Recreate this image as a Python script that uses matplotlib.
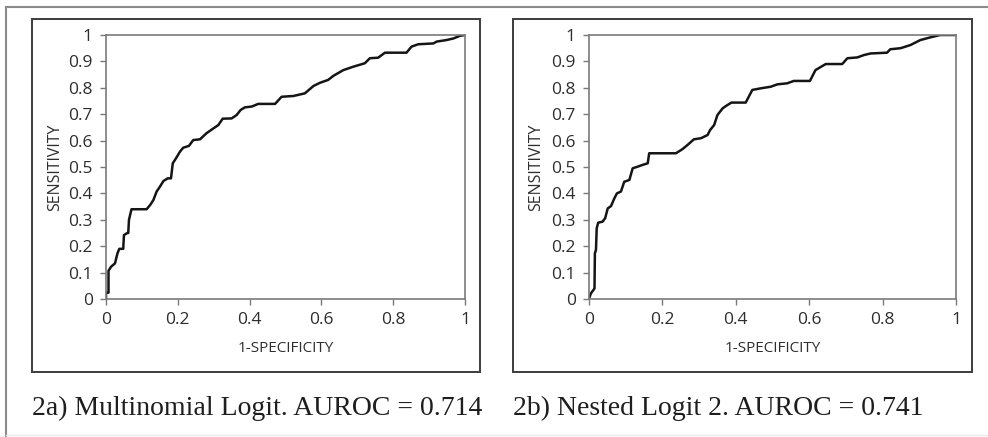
import matplotlib
matplotlib.use("Agg")
import matplotlib.pyplot as plt
from matplotlib.patches import Rectangle
from matplotlib.lines import Line2D

# ---- data ----
fpr_a = [0, 0, 0.007, 0.007, 0.014, 0.025, 0.032, 0.037, 0.048, 0.05, 0.058, 0.062, 0.064, 0.071,
         0.113, 0.123, 0.132, 0.141, 0.15, 0.16, 0.172, 0.181, 0.186, 0.195, 0.206, 0.215, 0.231,
         0.243, 0.262, 0.28, 0.299, 0.313, 0.325, 0.35, 0.364, 0.375, 0.387, 0.406, 0.424, 0.471,
         0.489, 0.522, 0.554, 0.578, 0.596, 0.619, 0.633, 0.661, 0.689, 0.721, 0.735, 0.758, 0.777,
         0.837, 0.851, 0.87, 0.912, 0.921, 0.949, 0.968, 0.986, 1.0]
tpr_a = [0, 0.024, 0.024, 0.107, 0.122, 0.135, 0.173, 0.19, 0.19, 0.242, 0.249, 0.25, 0.30, 0.34,
         0.34, 0.356, 0.375, 0.407, 0.425, 0.447, 0.457, 0.457, 0.514, 0.533, 0.558, 0.573, 0.58,
         0.602, 0.605, 0.628, 0.646, 0.659, 0.683, 0.684, 0.697, 0.716, 0.726, 0.729, 0.739, 0.739,
         0.766, 0.769, 0.779, 0.807, 0.819, 0.83, 0.845, 0.867, 0.88, 0.893, 0.912, 0.914, 0.933,
         0.933, 0.956, 0.965, 0.968, 0.975, 0.981, 0.987, 0.997, 1.0]

fpr_b = [0, 0.005, 0.012, 0.015, 0.016, 0.019, 0.021, 0.025, 0.037, 0.044, 0.051, 0.06, 0.069,
         0.076, 0.087, 0.096, 0.11, 0.119, 0.132, 0.146, 0.16, 0.164, 0.237, 0.255, 0.268, 0.286,
         0.305, 0.323, 0.33, 0.341, 0.35, 0.364, 0.373, 0.388, 0.427, 0.445, 0.468, 0.495, 0.513,
         0.54, 0.558, 0.602, 0.617, 0.645, 0.69, 0.704, 0.731, 0.749, 0.767, 0.812, 0.821, 0.849,
         0.876, 0.903, 0.93, 0.957, 1.0]
tpr_b = [0, 0.021, 0.034, 0.04, 0.173, 0.186, 0.268, 0.289, 0.293, 0.306, 0.343, 0.352, 0.381,
         0.40, 0.407, 0.444, 0.451, 0.495, 0.501, 0.508, 0.514, 0.552, 0.552, 0.568, 0.583, 0.605,
         0.609, 0.621, 0.64, 0.659, 0.697, 0.722, 0.731, 0.744, 0.744, 0.792, 0.798, 0.804, 0.813,
         0.817, 0.826, 0.826, 0.867, 0.89, 0.89, 0.912, 0.915, 0.924, 0.93, 0.933, 0.946, 0.95,
         0.962, 0.981, 0.991, 1.0, 1.0]

x_ticks = [0, 0.2, 0.4, 0.6, 0.8, 1]
x_labels = ["0", "0.2", "0.4", "0.6", "0.8", "1"]
y_ticks = [0, 0.1, 0.2, 0.3, 0.4, 0.5, 0.6, 0.7, 0.8, 0.9, 1]
y_labels = ["0", "0.1", "0.2", "0.3", "0.4", "0.5", "0.6", "0.7", "0.8", "0.9", "1"]

captions = ["2a) Multinomial Logit. AUROC = 0.714", "2b) Nested Logit 2. AUROC = 0.741"]
xlabel = "1-SPECIFICITY"
ylabel = "SENSITIVITY"

W, H = 988, 437
fig = plt.figure(figsize=(W / 100, H / 100), dpi=100)
fig.patch.set_facecolor("white")

def fx(px):
    return px / W

def fy(py):
    return 1 - py / H

# outer frame (top and left lines)
fig.add_artist(Line2D([fx(6), 1], [fy(7), fy(7)], color="#8a8a8a", lw=1.5, transform=fig.transFigure))
fig.add_artist(Line2D([fx(6), fx(6)], [fy(7), 0], color="#8a8a8a", lw=1.5, transform=fig.transFigure))
fig.add_artist(Line2D([fx(6), 1], [fy(435), fy(435)], color="#f0e6e6", lw=1.0, transform=fig.transFigure))

panels = [
    dict(box=(32, 19, 480, 372), ax=(106, 35, 465, 299), ylab_x=55, cap_x=32,
         fpr=fpr_a, tpr=tpr_a, cap=captions[0]),
    dict(box=(513, 19, 972, 372), ax=(589, 35, 956, 299), ylab_x=536, cap_x=513,
         fpr=fpr_b, tpr=tpr_b, cap=captions[1]),
]

tick_font = "Open Sans"

for p in panels:
    x0, y0, x1, y1 = p["box"]
    fig.add_artist(Rectangle((fx(x0), fy(y1)), fx(x1) - fx(x0), fy(y0) - fy(y1),
                             transform=fig.transFigure, fill=False, edgecolor="#3c3c3c", lw=1.4))
    ax0, ay0, ax1, ay1 = p["ax"]
    ax = fig.add_axes([fx(ax0), fy(ay1), fx(ax1) - fx(ax0), fy(ay0) - fy(ay1)])
    ax.plot(p["fpr"], p["tpr"], color="#151515", lw=1.8, solid_joinstyle="round")
    ax.set_xlim(0, 1)
    ax.set_ylim(0, 1)
    ax.set_xticks(x_ticks)
    ax.set_xticklabels(x_labels)
    ax.set_yticks(y_ticks)
    ax.set_yticklabels(y_labels)
    for s in ax.spines.values():
        s.set_color("#7a7a7a")
        s.set_linewidth(1.2)
    ax.tick_params(axis="both", direction="out", length=4, width=1.0, color="#7a7a7a",
                   labelsize=12.5, labelcolor="#2e2e2e")
    ax.tick_params(axis="y", pad=5.5)
    ax.tick_params(axis="x", pad=5)
    for lab in ax.get_xticklabels() + ax.get_yticklabels():
        lab.set_family(tick_font)
    # axis titles
    fig.text(fx(p["ylab_x"]), fy((ay0 + ay1) / 2), ylabel, rotation=90, ha="center", va="center",
             fontsize=11.5, family=tick_font, color="#2e2e2e")
    fig.text(fx((ax0 + ax1) / 2), fy(348), xlabel, ha="center", va="center",
             fontsize=11, family=tick_font, color="#2e2e2e")
    fig.text(fx(p["cap_x"]), fy(415), p["cap"], ha="left", va="baseline",
             fontsize=20, family="Liberation Serif", color="#1e1e1e")

fig.savefig("out.png", dpi=100, facecolor="white")
